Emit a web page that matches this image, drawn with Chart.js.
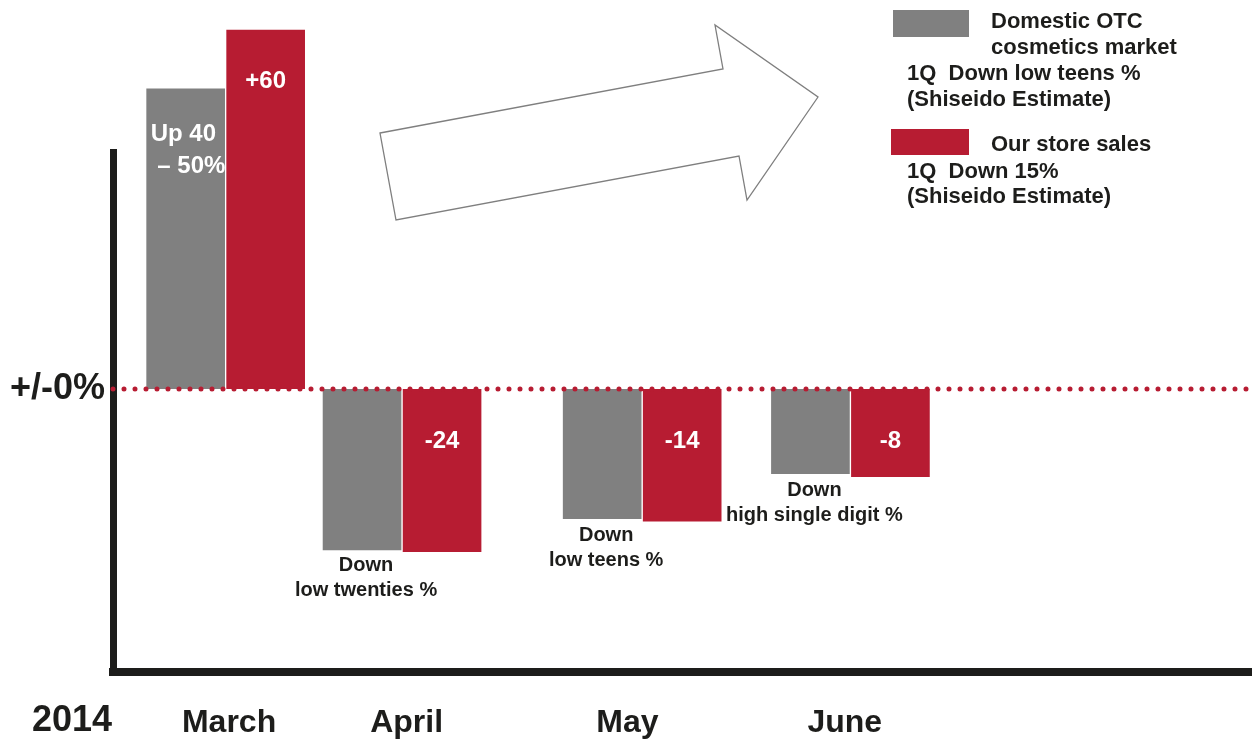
<!DOCTYPE html>
<html>
<head>
<meta charset="utf-8">
<script src="https://cdn.jsdelivr.net/npm/chart.js@4/dist/chart.umd.min.js"></script>
<style>
  html, body { margin: 0; padding: 0; background: #ffffff; }
  canvas { display: block; }
</style>
</head>
<body>
<canvas id="sales-chart" width="1255" height="743"></canvas>
<script>
"use strict";
// month labels and where they sit along the x axis (0..100 of axis width)
const months = ["March", "April", "May", "June"];
const monthTickX = [10.2, 25.8, 45.2, 64.3];
// bar group centres along the x axis
const groupX = [9.9, 25.4, 46.5, 64.8];
// bars in the original are not to scale: lengths measured on the picture,
// in the unit where the red March bar is 60
const marketBars = [50.2, -27.0, -21.8, -14.3];
const storeBars = [60.0, -27.3, -22.2, -14.8];
const marketLabels = ["Up 40\n \u2013 50%", "Down\nlow twenties %", "Down\nlow teens %", "Down\nhigh single digit %"];
const storeLabels = ["+60", "-24", "-14", "-8"];
const yearLabel = "2014";
const zeroLabel = "+/-0%";
const legendItems = [
    { color: "#808080", title: ["Domestic OTC", "cosmetics market"], note: ["1Q  Down low teens %", "(Shiseido Estimate)"] },
    { color: "#b71c32", title: ["Our store sales"], note: ["1Q  Down 15%", "(Shiseido Estimate)"] },
];

const FONT = "'Liberation Sans', Arial, sans-serif";
const INK = "#1d1d1b";
const RED = "#b71c32";
const GREY = "#808080";

function toPoints(values) {
    return values.map((v, i) => ({ x: groupX[i], y: v }));
}

const zeroLinePlugin = {
    id: "zeroLine",
    afterDatasetsDraw(chart) {
        const ctx = chart.ctx;
        const y = chart.scales.y.getPixelForValue(0);
        ctx.save();
        ctx.strokeStyle = RED;
        ctx.lineWidth = 5;
        ctx.lineCap = "round";
        ctx.setLineDash([0, 11]);
        ctx.beginPath();
        ctx.moveTo(chart.chartArea.left, y);
        ctx.lineTo(chart.chartArea.right + 2, y);
        ctx.stroke();
        ctx.restore();
    },
};

const barTextPlugin = {
    id: "barText",
    afterDatasetsDraw(chart) {
        const ctx = chart.ctx;
        const grey = chart.getDatasetMeta(0).data;
        const red = chart.getDatasetMeta(1).data;
        ctx.save();
        // red bar values, white inside the bar
        ctx.font = "bold 24px " + FONT;
        ctx.fillStyle = "#ffffff";
        ctx.textAlign = "center";
        ctx.textBaseline = "middle";
        red.forEach((bar, i) => {
            ctx.fillText(storeLabels[i], bar.x, Math.min(bar.y, bar.base) + 52);
        });
        // grey bar notes
        grey.forEach((bar, i) => {
            const lines = marketLabels[i].split("\n");
            if (marketBars[i] > 0) {
                const left = bar.x - bar.width / 2;
                ctx.save();
                ctx.beginPath();
                ctx.rect(left, bar.y, bar.width, bar.base - bar.y);
                ctx.clip();
                ctx.font = "bold 24px " + FONT;
                ctx.fillStyle = "#ffffff";
                ctx.textAlign = "left";
                lines.forEach((t, k) => ctx.fillText(t, left + 5, bar.y + 47 + k * 32));
                ctx.restore();
            } else {
                const bottom = Math.max(bar.y, red[i].y);
                ctx.font = "bold 20px " + FONT;
                ctx.fillStyle = INK;
                ctx.textAlign = "center";
                lines.forEach((t, k) => ctx.fillText(t, bar.x + 4, bottom + 13 + k * 25));
            }
        });
        ctx.restore();
    },
};

const decorPlugin = {
    id: "decor",
    afterDraw(chart) {
        const ctx = chart.ctx;
        ctx.save();
        // year label next to the month ticks
        ctx.font = "bold 36px " + FONT;
        ctx.fillStyle = INK;
        ctx.textAlign = "center";
        ctx.textBaseline = "middle";
        ctx.fillText(yearLabel, 72, 721);

        // hollow arrow
        ctx.strokeStyle = "#7f7f7f";
        ctx.lineWidth = 1.3;
        ctx.beginPath();
        ctx.moveTo(380, 133);
        ctx.lineTo(723, 69);
        ctx.lineTo(715, 25);
        ctx.lineTo(818, 97);
        ctx.lineTo(747, 200);
        ctx.lineTo(739, 156);
        ctx.lineTo(396, 220);
        ctx.closePath();
        ctx.stroke();

        // legend
        const boxes = [[893, 10, 76, 27], [891, 129, 78, 26]];
        const titleBase = [[28, 53.5], [151]];
        const noteBase = [[80, 106], [178, 203]];
        ctx.font = "bold 22px " + FONT;
        ctx.textAlign = "left";
        ctx.textBaseline = "alphabetic";
        legendItems.forEach((item, i) => {
            const b = boxes[i];
            ctx.fillStyle = item.color;
            ctx.fillRect(b[0], b[1], b[2], b[3]);
            ctx.fillStyle = INK;
            item.title.forEach((t, k) => ctx.fillText(t, 991, titleBase[i][k]));
            item.note.forEach((t, k) => ctx.fillText(t, 907, noteBase[i][k]));
        });
        ctx.restore();
    },
};

function createChart() {
    const ctx = document.getElementById("sales-chart").getContext("2d");
    new Chart(ctx, {
        type: "bar",
        data: {
            datasets: [
                {
                    label: "Domestic OTC cosmetics market",
                    data: toPoints(marketBars),
                    backgroundColor: GREY,
                    borderColor: "#ffffff",
                    borderWidth: 1,
                    barThickness: 80,
                    clip: false,
                },
                {
                    label: "Our store sales",
                    data: toPoints(storeBars),
                    backgroundColor: RED,
                    borderColor: "#ffffff",
                    borderWidth: 1,
                    barThickness: 80,
                    clip: false,
                },
            ],
        },
        options: {
            responsive: false,
            animation: false,
            layout: { padding: { top: 152, left: 0, right: 4, bottom: 0 } },
            plugins: {
                legend: { display: false },
                tooltip: { enabled: false },
            },
            scales: {
                x: {
                    type: "linear",
                    min: 0,
                    max: 100,
                    offset: false,
                    grid: { display: false, drawTicks: false, offset: false },
                    border: { color: INK, width: 8 },
                    afterBuildTicks: s => { s.ticks = monthTickX.map(v => ({ value: v })); },
                    afterFit: s => { s.height = 71; },
                    ticks: {
                        autoSkip: false,
                        maxRotation: 0,
                        padding: 32,
                        color: INK,
                        font: { family: FONT, size: 32, weight: "bold" },
                        callback: (v, i) => months[i],
                    },
                },
                y: {
                    type: "linear",
                    min: -47.17,
                    max: 39.5,
                    grid: { display: false, drawTicks: false },
                    border: { color: INK, width: 7 },
                    afterBuildTicks: s => { s.ticks = [{ value: 0 }]; },
                    afterFit: s => { s.width = 113; },
                    ticks: {
                        padding: 8,
                        color: INK,
                        font: { family: FONT, size: 36, weight: "bold" },
                        callback: () => zeroLabel,
                    },
                },
            },
        },
        plugins: [zeroLinePlugin, barTextPlugin, decorPlugin],
    });
}
createChart();
</script>
</body>
</html>
